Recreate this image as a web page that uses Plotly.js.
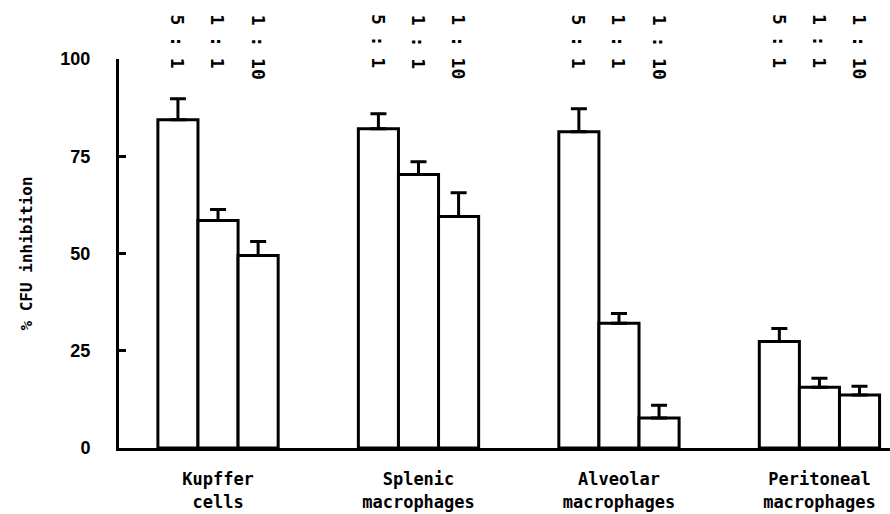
<!DOCTYPE html>
<html>
<head>
<meta charset="utf-8">
<script src="https://cdn.plot.ly/plotly-3.0.1.min.js"></script>
<style>html,body{margin:0;padding:0;background:#fff;}#chart{width:890px;height:514px;}</style>
</head>
<body>
<div id="chart"></div>
<script>
// Categories (cell types) and effector:target ratios
const categories = ['Kupffer<br>cells', 'Splenic<br>macrophages', 'Alveolar<br>macrophages', 'Peritoneal<br>macrophages'];
const ratios = ['5 : 1', '1 : 1', '1 : 10'];
// % CFU inhibition per ratio
const inhib_5_1 = [84.4, 82.1, 81.3, 27.4];
const inhib_1_1 = [58.5, 70.3, 32.1, 15.6];
const inhib_1_10 = [49.5, 59.5, 7.7, 13.6];
// upper error (SE)
const err_5_1 = [5.4, 3.8, 5.9, 3.3];
const err_1_1 = [2.8, 3.3, 2.5, 2.3];
const err_1_10 = [3.6, 6.1, 3.3, 2.3];
const yTicks = [0, 25, 50, 75, 100];

const series = [inhib_5_1, inhib_1_1, inhib_1_10];
const errs = [err_5_1, err_1_1, err_1_10];

const bargap = 0.4;
const traces = series.map((vals, i) => ({
  type: 'bar',
  name: ratios[i],
  x: categories,
  y: vals,
  marker: {color: '#ffffff', line: {color: '#000000', width: 3}},
  error_y: {type: 'data', symmetric: false, array: errs[i], arrayminus: vals.map(() => 0),
            color: '#000000', thickness: 3, width: 8},
  hoverinfo: 'skip'
}));

// ratio labels above each bar column, placed via the group layout
const barW = (1 - bargap) / ratios.length;
const annotations = [];
categories.forEach((c, gi) => {
  ratios.forEach((r, si) => {
    annotations.push({
      xref: 'x', yref: 'paper',
      x: gi + (si - (ratios.length - 1) / 2) * barW,
      y: 1.12, yanchor: 'top', xanchor: 'center',
      text: r, textangle: 90, showarrow: false,
      font: {family: 'DejaVu Sans Mono', size: 18, weight: 'bold', color: '#000'}
    });
  });
});

const layout = {
  width: 890, height: 514,
  margin: {l: 119, r: 0, t: 59, b: 66},
  paper_bgcolor: '#fff', plot_bgcolor: '#fff',
  showlegend: false,
  barmode: 'group', bargap: bargap, bargroupgap: 0,
  xaxis: {
    type: 'category', range: [-0.494, 3.352],
    showline: true, linecolor: '#000', linewidth: 3,
    ticks: '', showgrid: false, zeroline: false,
    tickfont: {family: 'DejaVu Sans Mono', size: 17, weight: 'bold', color: '#000'},
    ticklabelstandoff: 14
  },
  yaxis: {
    range: [0, 100], tickvals: yTicks, ticktext: yTicks.map(String),
    showline: true, linecolor: '#000', linewidth: 3,
    ticks: 'inside', ticklen: 7, tickwidth: 3, tickcolor: '#000',
    showgrid: false, zeroline: false,
    tickfont: {family: 'Liberation Sans', size: 18, weight: 'bold', color: '#000'},
    ticklabelstandoff: 22,
    title: {text: '% CFU inhibition', font: {family: 'DejaVu Sans Mono', size: 16, weight: 'bold', color: '#000'}, standoff: 24}
  },
  annotations: annotations
};

Plotly.newPlot('chart', traces, layout, {displayModeBar: false, staticPlot: true});
</script>
</body>
</html>
